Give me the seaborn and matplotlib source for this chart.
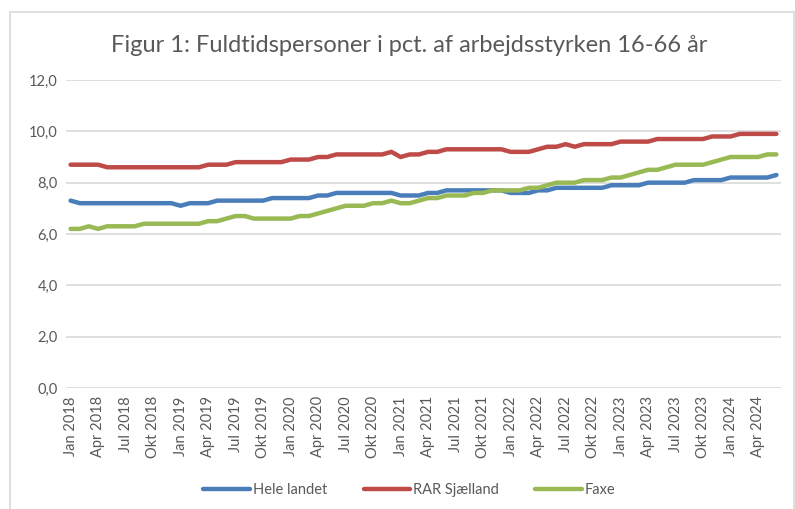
import matplotlib
matplotlib.use("Agg")
import matplotlib.pyplot as plt
from matplotlib.patches import Rectangle
import numpy as np
import pandas as pd
import seaborn as sns

# months Jan 2018 - Jun 2024
month_names = ["Jan", "Feb", "Mar", "Apr", "Maj", "Jun", "Jul", "Aug", "Sep", "Okt", "Nov", "Dec"]
months = [f"{month_names[m]} {y}" for y in range(2018, 2025) for m in range(12)][:78]

hele_landet = ([7.3] + [7.2] * 11 + [7.1] + [7.2] * 3 + [7.3] * 6 + [7.4] * 5 + [7.5] * 2
               + [7.6] * 7 + [7.5] * 3 + [7.6] * 2 + [7.7] * 7 + [7.6] * 3 + [7.7] * 2
               + [7.8] * 6 + [7.9] * 4 + [8.0] * 5 + [8.1] * 4 + [8.2] * 5 + [8.3])
rar_sjaelland = ([8.7] * 4 + [8.6] * 11 + [8.7] * 3 + [8.8] * 6 + [8.9] * 3 + [9.0] * 2
                 + [9.1] * 6 + [9.2] + [9.0] + [9.1] * 2 + [9.2] * 2 + [9.3] * 7 + [9.2] * 3
                 + [9.3] + [9.4] * 2 + [9.5] + [9.4] + [9.5] * 4 + [9.6] * 4 + [9.7] * 6
                 + [9.8] * 3 + [9.9] * 5)
faxe = ([6.2, 6.2, 6.3, 6.2] + [6.3] * 4 + [6.4] * 7 + [6.5] * 2 + [6.6] + [6.7] * 2
        + [6.6] * 5 + [6.7] * 2 + [6.8, 6.9, 7.0] + [7.1] * 3 + [7.2] * 2 + [7.3]
        + [7.2] * 2 + [7.3] + [7.4] * 2 + [7.5] * 3 + [7.6] * 2 + [7.7] * 4 + [7.8] * 2
        + [7.9] + [8.0] * 3 + [8.1] * 3 + [8.2] * 2 + [8.3, 8.4] + [8.5] * 2 + [8.6]
        + [8.7] * 4 + [8.8, 8.9] + [9.0] * 4 + [9.1] * 2)

series_names = ["Hele landet", "RAR Sjælland", "Faxe"]
colors = ["#4A7EBB", "#BE4B48", "#98B954"]

df = pd.DataFrame({"maaned": list(range(78)) * 3,
                   "vaerdi": hele_landet + rar_sjaelland + faxe,
                   "serie": [s for s in series_names for _ in range(78)]})

sns.set_style("white")
plt.rcParams["font.family"] = ["Lato", "DejaVu Sans"]
grey = "#595959"

fig = plt.figure(figsize=(7.95, 5.09), dpi=100)
fig.patches.append(Rectangle((10 / 795, -0.01), 0.999 - 10 / 795, 1 - 12 / 509 + 0.01,
                             transform=fig.transFigure, fill=False,
                             edgecolor="#d9d9d9", linewidth=1.2))
ax = fig.add_axes([66 / 795, 1 - 388 / 509, 715 / 795, 308 / 509])

sns.lineplot(data=df, x="maaned", y="vaerdi", hue="serie", palette=colors,
             linewidth=3.2, ax=ax, legend=False)

ax.set_xlim(-0.5, 77.5)
ax.set_ylim(0, 12)
ax.set_yticks(np.arange(0, 13, 2))
ax.set_yticklabels([f"{v:.1f}".replace(".", ",") for v in np.arange(0, 13, 2)],
                   fontsize=10.5, color=grey)
ax.set_xticks(range(0, 78, 3))
ax.set_xticklabels(months[::3], rotation=90, fontsize=10.5, color=grey)
ax.tick_params(axis="both", length=0, pad=6)
ax.grid(axis="y", color="#d9d9d9", linewidth=1.2)
ax.set_axisbelow(True)
for side in ["top", "right", "left", "bottom"]:
    ax.spines[side].set_visible(False)
ax.set_xlabel("")
ax.set_ylabel("")

fig.text(0.515, 1 - 45 / 509, "Figur 1: Fuldtidspersoner i pct. af arbejdsstyrken 16-66 år",
         ha="center", va="center", fontsize=17, color=grey)

handles = [plt.Line2D([], [], color=c, linewidth=3.2) for c in colors]
fig.legend(handles, series_names, loc="center", bbox_to_anchor=(0.515, 1 - 490 / 509),
           ncol=3, frameon=False, fontsize=10.5, labelcolor=grey,
           handlelength=3.2, handletextpad=0.2, columnspacing=2.5)

fig.savefig("out.png", dpi=100)
